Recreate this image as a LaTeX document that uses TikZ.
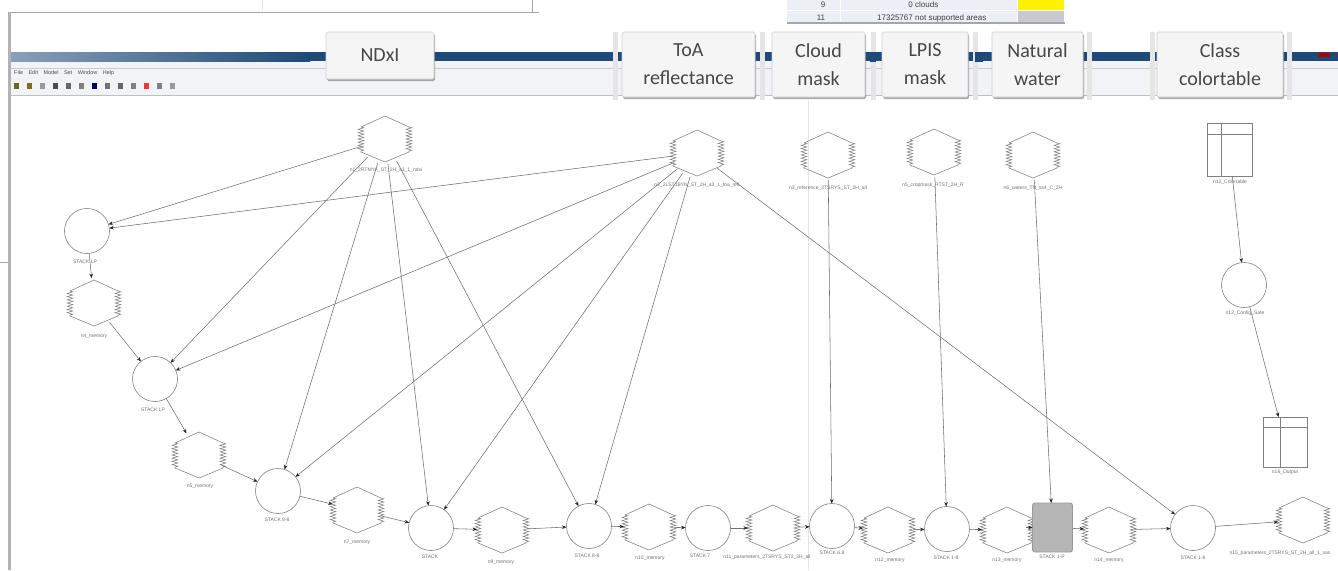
\documentclass[tikz,border=0pt]{standalone}
\usepackage{fontspec}
\setmainfont{Carlito}
\newfontfamily\lblfont{Liberation Sans}
\usetikzlibrary{arrows.meta,decorations.pathmorphing,calc,shadows}
\definecolor{edgec}{HTML}{707070}
\definecolor{shapec}{HTML}{808080}
\definecolor{titleblue}{HTML}{1D4A78}
\definecolor{titlelight}{HTML}{8A9FBA}
\definecolor{boxfill}{HTML}{F5F5F5}
\definecolor{boxline}{HTML}{D0D0D0}
\definecolor{boxtext}{HTML}{474747}
\definecolor{celllav}{HTML}{ECEEF8}
\definecolor{cellyellow}{HTML}{FFF200}
\definecolor{cellgray}{HTML}{C9C9CF}
\definecolor{selgray}{HTML}{B5B5B5}
\definecolor{menubg}{HTML}{F2F3F6}
\tikzset{
  hexnode/.style={circle, minimum size=50pt, inner sep=0pt, outer sep=0pt},
  hexline/.style={color=shapec, line width=0.55pt},
  zz/.style={decorate, decoration={zigzag, segment length=3.2pt, amplitude=2.8pt}},
  fnode/.style={circle, draw=shapec, line width=0.6pt, minimum size=45pt, inner sep=0pt, outer sep=0pt},
  tabnode/.style={rectangle, draw=shapec, line width=0.6pt, inner sep=0pt, outer sep=0pt},
  tabline/.style={draw=shapec, line width=0.5pt},
  selnode/.style={rectangle, rounded corners=2.5pt, draw=black!40, fill=selgray, line width=0.9pt, minimum width=40pt, minimum height=49pt, inner sep=0pt, outer sep=0pt},
  conn/.style={draw=edgec, line width=0.55pt, -{Stealth[length=4.5pt,width=3.6pt,color=black!85]}},
  lbl/.style={font=\lblfont\fontsize{5}{5}\selectfont, text=black!55, inner sep=0pt},
  tbl/.style={font=\lblfont\fontsize{8}{8}\selectfont, text=black!75, inner sep=0pt},
  menu/.style={font=\lblfont\fontsize{5.5}{5.5}\selectfont, text=black!70, inner sep=0pt, anchor=west},
  callbox/.style={rectangle, fill=boxfill, draw=boxline, line width=0.6pt, rounded corners=1.5pt, text=boxtext, align=center, font=\fontsize{20}{28}\selectfont, inner sep=0pt, drop shadow={shadow xshift=1pt, shadow yshift=-2pt, fill=black!60, opacity=0.55}},
}
\newcommand\hexat[3]{%
  \node[hexnode] (#1) at (#2,#3) {};
  \begin{scope}[shift={(#2,#3)}, hexline]
    \draw (-24,-12) -- (0,-23) -- (24,-12);
    \draw (-24,13) -- (0,23) -- (24,13);
    \draw[zz] (-24,-12) -- (-24,13);
    \draw[zz] (24,-12) -- (24,13);
  \end{scope}}
\begin{document}
\begin{tikzpicture}[x=1pt,y=-1pt]
\useasboundingbox (0,0) rectangle (1338,570);
\fill[white] (0,0) rectangle (1338,570);

% window frames
\draw[black!35, line width=0.8pt] (9,12) -- (539,12);
\draw[black!35, line width=0.8pt] (532,0) -- (532,12);
\draw[black!12, line width=0.6pt] (262,0) -- (262,10);
\fill[black!30] (8,12) rectangle (11,570);
\draw[black!35, line width=0.8pt] (0,262) -- (8,262);

% title bar, menu and toolbar
\fill[menubg] (11,61) rectangle (1338,95);
\fill[titleblue] (11,52) rectangle (1338,61);
\shade[left color=titlelight, right color=titleblue] (11,52) rectangle (310,61);
\fill[red!70!black] (1318,53) rectangle (1330,57);
\draw[black!20, line width=0.6pt] (11,68) -- (1338,68);
\draw[black!25, line width=0.6pt] (11,95) -- (1338,95);
\node[menu] (mfile) at (14,73) {File\quad Edit\quad Model\quad Set\quad Window\quad Help};
\foreach \i/\c in {0/olive!70!black,1/olive!80!black,2/black!40,3/black!70,4/black!60,5/black!50,6/blue!40!black,7/black!55,8/black!60,9/black!50,10/red!80,11/black!50,12/black!40} {
  \fill[\c] (14+\i*13,83) rectangle (19+\i*13,89);
}

% separators of the callout strip
\foreach \xa in {613,760,871,973,1087,1150,1287} {
  \fill[black!10] (\xa,32) rectangle (\xa+5,100);
}
\fill[titleblue] (870,52) rectangle (876,62);
\fill[titleblue] (975,52) rectangle (983,62);

% top table (legend)
\fill[celllav] (787,0) rectangle (1017,22);
\fill[cellyellow] (1018,0) rectangle (1064,10.5);
\fill[cellgray] (1018,11) rectangle (1064,22);
\draw[white, line width=0.8pt] (787,10.7) -- (1064,10.7);
\draw[white, line width=0.8pt] (840,0) -- (840,22);
\draw[black!35, line width=1.2pt] (787,23) -- (1065,23);
\node[tbl, anchor=base] (t9) at (823,8) {9};
\node[tbl, anchor=base east] (t0) at (913,8) {0};
\node[tbl, anchor=base west] (tcl) at (915,8) {clouds};
\node[tbl, anchor=base] (t11) at (821,20) {11};
\node[tbl, anchor=base east] (tn) at (913,20) {17325767};
\node[tbl, anchor=base west] (tns) at (915,20) {not supported areas};

% callout boxes
\node[callbox, minimum width=108pt, minimum height=47pt] (bndxi) at (380,55.5) {NDxI};
\node[callbox, minimum width=133pt, minimum height=65pt] (btoa) at (688.5,64.5) {ToA\\reflectance};
\node[callbox, minimum width=93pt, minimum height=65pt] (bcloud) at (818.5,64.5) {Cloud\\mask};
\node[callbox, minimum width=86pt, minimum height=65pt] (blpis) at (925,64.5) {LPIS\\mask};
\node[callbox, minimum width=91pt, minimum height=65pt] (bwater) at (1037.5,64.5) {Natural\\water};
\node[callbox, minimum width=126pt, minimum height=65pt] (bclass) at (1220,64.5) {Class\\colortable};

% faint canvas divider
\draw[black!10, line width=0.8pt] (808,100) -- (808,570);

% raster (hexagon) nodes
\hexat{H1}{385}{139}
\hexat{H2}{697}{153}
\hexat{H3}{828}{155}
\hexat{H4}{934}{152}
\hexat{H5}{1033}{155}
\hexat{H6}{94}{303}
\hexat{H7}{199}{455}
\hexat{H8}{357}{510}
\hexat{H9}{502}{530}
\hexat{H10}{649}{527}
\hexat{H11}{773}{528}
\hexat{H12}{888}{530}
\hexat{H13}{1007}{530}
\hexat{H14}{1109}{530}
\hexat{H15}{1303}{520}

% function nodes
\node[fnode] (C1) at (87,231) {};
\node[fnode] (C2) at (155,379) {};
\node[fnode] (C3) at (278,491) {};
\node[fnode] (C4) at (431,528) {};
\node[fnode] (C5) at (589,526) {};
\node[fnode] (C6) at (708,528) {};
\node[fnode] (C7) at (832,526) {};
\node[fnode] (C8) at (947,529) {};
\node[fnode] (C9) at (1193,528) {};
\node[fnode] (C10) at (1244,285) {};
\node[selnode] (S1) at (1052.5,527.5) {};

% tables
\node[tabnode, minimum width=45pt, minimum height=53pt] (T1) at (1229.5,150) {};
\draw[tabline] ($(T1.north west)+(0,11)$) -- ($(T1.north east)+(0,11)$);
\draw[tabline] ($(T1.north west)+(14,0)$) -- ($(T1.south west)+(14,0)$);
\node[tabnode, minimum width=44pt, minimum height=50pt] (T2) at (1285,442) {};
\draw[tabline] ($(T2.north west)+(0,10)$) -- ($(T2.north east)+(0,10)$);
\draw[tabline] ($(T2.north west)+(17,0)$) -- ($(T2.south west)+(17,0)$);

% connectors from inputs
\draw[conn] (H1) -- (C1);
\draw[conn] (H2) -- (C1);
\draw[conn] (H1) -- (C2);
\draw[conn] (H2) -- (C2);
\draw[conn] (H1) -- (C3);
\draw[conn] (H2) -- (C3);
\draw[conn] (H1) -- (C4);
\draw[conn] (H2) -- (C4);
\draw[conn] (H1) -- (C5);
\draw[conn] (H2) -- (C5);
\draw[conn] (H2) -- (C9);
\draw[conn] (H3) -- (C7);
\draw[conn] (H4) -- (C8);
\draw[conn] (H5) -- (S1);
\draw[conn] (T1) -- (C10);
\draw[conn] (C10) -- (T2);

% processing chain
\draw[conn] (C1) -- (H6);
\draw[conn] (H6) -- (C2);
\draw[conn] (C2) -- (H7);
\draw[conn] (H7) -- (C3);
\draw[conn] (C3) -- (H8);
\draw[conn] (H8) -- (C4);
\draw[conn] (C4) -- (H9);
\draw[conn] (H9) -- (C5);
\draw[conn] (C5) -- (H10);
\draw[conn] (H10) -- (C6);
\draw[conn] (C6) -- (H11);
\draw[conn] (H11) -- (C7);
\draw[conn] (C7) -- (H12);
\draw[conn] (H12) -- (C8);
\draw[conn] (C8) -- (H13);
\draw[conn] ([xshift=-7pt]S1.west) -- (S1.west);
\draw[conn] (S1) -- (H14);
\draw[conn] (H14) -- (C9);
\draw[conn] (C9) -- (H15);

% labels
\node[lbl] (lH1) at (386,170) {n1\_2RTMYA\_ST\_2H\_a3\_1\_ndxi};
\node[lbl] (lH2) at (697,185) {n2\_2LST1BYN\_ST\_2H\_a3\_1\_toa\_refl};
\node[lbl] (lH3) at (828,188) {n3\_reference\_2TSRYS\_ST\_2H\_all};
\node[lbl] (lH4) at (933,185) {n5\_cropmask\_RTST\_2H\_R};
\node[lbl] (lH5) at (1033,188) {n6\_waters\_TN\_ss4\_C\_2H};
\node[lbl] (lT1) at (1230,182) {n12\_Colortable};
\node[lbl] (lC1) at (85,262) {STACK LP};
\node[lbl] (lH6) at (94,336) {n4\_memory};
\node[lbl] (lC2) at (153,410) {STACK LP};
\node[lbl] (lH7) at (200,486) {n5\_memory};
\node[lbl] (lC3) at (277,520) {STACK 8-8};
\node[lbl] (lH8) at (357,542) {n7\_memory};
\node[lbl] (lC4) at (430,557) {STACK};
\node[lbl] (lH9) at (501,562) {n9\_memory};
\node[lbl] (lC5) at (587,556) {STACK 8-8};
\node[lbl] (lH10) at (650,558) {n10\_memory};
\node[lbl] (lC6) at (700,556) {STACK 7};
\node[lbl] (lH11) at (767,557) {n11\_parameters\_2TSRYS\_ST2\_2H\_all};
\node[lbl] (lC7) at (832,553) {STACK 6.8};
\node[lbl] (lH12) at (890,560) {n12\_memory};
\node[lbl] (lC8) at (946,558) {STACK 1-8};
\node[lbl] (lH13) at (1007,560) {n13\_memory};
\node[lbl] (lS1) at (1052,557) {STACK 1-P};
\node[lbl] (lH14) at (1109,560) {n14\_memory};
\node[lbl] (lC9) at (1193,558) {STACK 1-8};
\node[lbl] (lH15) at (1280,553) {n15\_parameters\_2TSRYS\_ST\_2H\_all\_1\_sas};
\node[lbl] (lC10) at (1245,313) {n12\_Config\_Sate};
\node[lbl] (lT2) at (1285,472) {n16\_Output};
\end{tikzpicture}
\end{document}
